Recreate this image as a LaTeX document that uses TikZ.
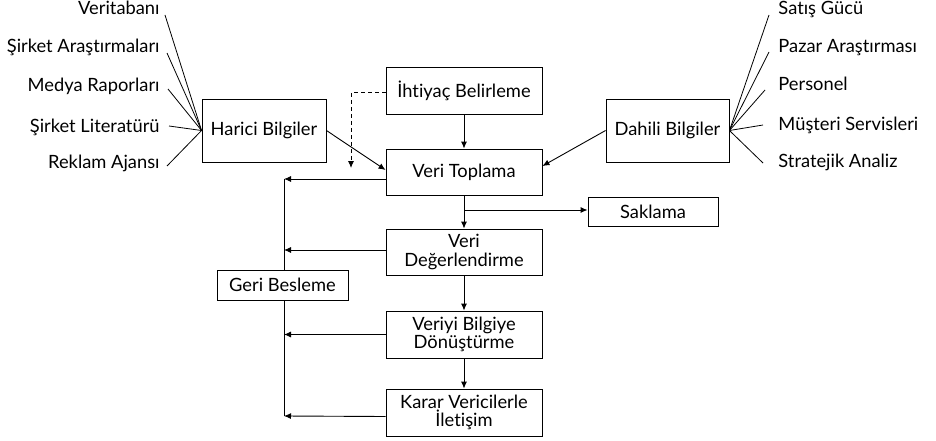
\documentclass[tikz,border=0pt]{standalone}
\usepackage{fontspec}
\setmainfont[Ligatures=NoCommon]{Lato}
\usetikzlibrary{arrows.meta}
\begin{document}
\begin{tikzpicture}[x=1pt,y=-1pt,
  font=\fontsize{18.3}{18.5}\selectfont,
  line width=0.9pt,
  box/.style={draw,line width=0.9pt,align=center,inner sep=2pt},
  lab/.style={inner sep=0pt},
  arr/.style={-{Latex[length=7pt,width=6pt]}},
  link/.style={line width=0.8pt}]
\useasboundingbox (0,0) rectangle (936,441);
% boxes
\node[box,minimum width=124pt,minimum height=63pt] (harici) at (264,130.5) {Harici Bilgiler};
\node[box,minimum width=123pt,minimum height=63pt] (dahili) at (667.5,130.5) {Dahili Bilgiler};
\node[box,minimum width=156pt,minimum height=47pt] (ihtiyac) at (464,90.5) {İhtiyaç Belirleme};
\node[box,minimum width=156pt,minimum height=46pt] (vt) at (464,172) {Veri Toplama};
\node[box,minimum width=130pt,minimum height=29pt] (sak) at (653,211.5) {Saklama};
\node[box,minimum width=156pt,minimum height=46pt] (vd) at (464,252) {Veri\\Değerlendirme};
\node[box,minimum width=131pt,minimum height=30pt] (geri) at (282.5,285) {Geri Besleme};
\node[box,minimum width=156pt,minimum height=47pt] (vb) at (464,334.5) {Veriyi Bilgiye\\Dönüştürme};
\node[box,minimum width=156pt,minimum height=47pt] (kv) at (464,412.5) {Karar Vericilerle\\İletişim};
% left labels
\node[lab,anchor=base east] (l1) at (160,15) {Veritabanı};
\node[lab,anchor=base east] (l2) at (160,53) {Şirket Araştırmaları};
\node[lab,anchor=base east] (l3) at (160,92) {Medya Raporları};
\node[lab,anchor=base east] (l4) at (160,132) {Şirket Literatürü};
\node[lab,anchor=base east] (l5) at (160,168) {Reklam Ajansı};
% right labels
\node[lab,anchor=base west] (r1) at (778,15) {Satış Gücü};
\node[lab,anchor=base west] (r2) at (778,53) {Pazar Araştırması};
\node[lab,anchor=base west] (r3) at (778,91) {Personel};
\node[lab,anchor=base west] (r4) at (778,130) {Müşteri Servisleri};
\node[lab,anchor=base west] (r5) at (778,167) {Stratejik Analiz};
% line ends
\coordinate (a1) at (165,15);
\coordinate (a2) at (167,53);
\coordinate (a3) at (168,89);
\coordinate (a4) at (169,126);
\coordinate (a5) at (167,166);
\coordinate (b1) at (769,15);
\coordinate (b2) at (769,52);
\coordinate (b3) at (765,90);
\coordinate (b4) at (763,125);
\coordinate (b5) at (763,163);
\foreach \i in {1,...,5}{
  \draw[link] (a\i) -- (harici.west);
  \draw[link] (b\i) -- (dahili.east);
}
% main arrows
\draw[arr] (ihtiyac) -- (vt);
\coordinate (dashend) at (351,168);
\draw[arr,dashed,dash pattern=on 4pt off 3pt] ([yshift=-2pt]ihtiyac.west) -| (dashend);
\draw[arr] (harici.east) -- ([yshift=2pt]vt.west);
\draw[arr] (dahili.west) -- ([yshift=6pt]vt.east);
\draw[arr] (vt) -- (vd);
\coordinate (br) at (464,210);
\draw[arr] (br) -- (br -| sak.west);
\draw[arr] (vd) -- (vb);
\draw[arr] (vb) -- (kv);
% feedback
\coordinate (fbtop) at (284,179);
\coordinate (fbbot) at (284,416);
\draw (fbtop) -- (fbtop |- geri.north);
\draw (fbbot |- geri.south) -- (fbbot);
\draw[arr] ([yshift=-7pt]vt.west) -- (fbtop);
\draw[arr] ([yshift=2pt]vd.west) -- ([yshift=2pt]vd.west -| fbtop);
\draw[arr] (vb.west) -- (vb.west -| fbtop);
\draw[arr] ([yshift=-4pt]kv.west) -- (fbbot);
\end{tikzpicture}
\end{document}
